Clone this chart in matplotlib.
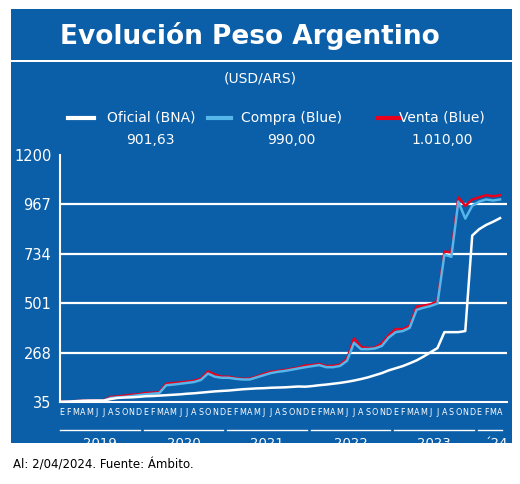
import matplotlib
matplotlib.use("Agg")
import matplotlib.pyplot as plt
import matplotlib.transforms as mtrans
from matplotlib.patches import Rectangle
from matplotlib.lines import Line2D

months = ["E","F","M","A","M","J","J","A","S","O","N","D"]
years = ["2019","2020","2021","2022","2023","´24"]
yticks = [35, 268, 501, 734, 967, 1200]

oficial = [37,38,40,42,43,43,43,50,55,57,58,60,
           63,64,66,68,70,72,75,77,80,83,86,88,
           90,93,96,98,100,101,103,104,105,107,109,108,
           111,115,118,122,126,131,137,144,152,162,172,185,
           195,205,218,232,250,270,290,365,365,365,370,820,
           850,870,885,902]
compra = [37,37,38,40,40,41,41,55,58,60,64,68,
          72,75,78,115,118,122,126,130,140,170,155,150,
          150,145,142,142,152,162,172,178,182,188,194,200,
          205,210,200,200,206,230,315,285,285,288,300,340,
          365,370,385,470,480,488,500,730,720,980,900,960,
          980,990,985,990]
venta = [38,38,40,42,42,43,43,60,62,66,70,72,
         78,80,82,122,125,128,132,136,146,180,165,155,
         155,148,145,146,156,168,178,182,186,192,198,208,
         210,215,205,206,212,240,335,295,290,292,312,350,
         380,378,395,485,490,496,510,745,740,1000,960,990,
         1000,1010,1005,1010]

BG = "#0b5ea8"
fig = plt.figure(figsize=(5.2, 4.84), dpi=100)
fig.patch.set_facecolor("white")
fig.add_artist(Rectangle((0.021, 0.085), 0.964, 0.897, transform=fig.transFigure,
                         facecolor=BG, edgecolor="none", zorder=-2))
fig.add_artist(Rectangle((0.021, 0.872), 0.964, 0.004, transform=fig.transFigure,
                         facecolor="white", edgecolor="none"))
fig.text(0.48, 0.925, "Evolución Peso Argentino", color="white", fontsize=19,
         fontweight="bold", ha="center", va="center")
fig.text(0.5, 0.838, "(USD/ARS)", color="white", fontsize=10, ha="center", va="center")

leg = [("Oficial (BNA)", "901,63", "white", 0.29, 0.13, 0.18),
       ("Compra (Blue)", "990,00", "#55b6ea", 0.56, 0.40, 0.445),
       ("Venta (Blue)", "1.010,00", "#e8001c", 0.85, 0.727, 0.77)]
for name, val, col, xc, l0, l1 in leg:
    fig.add_artist(Line2D([l0, l1], [0.757, 0.757], transform=fig.transFigure,
                          color=col, lw=3))
    fig.text(xc, 0.757, name, color="white", fontsize=10, ha="center", va="center")
    fig.text(xc, 0.711, val, color="white", fontsize=10, ha="center", va="center")

ax = fig.add_axes([0.115, 0.169, 0.86, 0.511])
ax.set_facecolor(BG)
x = list(range(len(oficial)))
ax.plot(x, oficial, color="white", lw=1.8, zorder=3)
ax.plot(x, venta, color="#e8001c", lw=1.8, zorder=2)
ax.plot(x, compra, color="#55b6ea", lw=1.8, zorder=2.5)
ax.set_xlim(-0.3, 64)
ax.set_ylim(35, 1200)
ax.set_yticks(yticks)
ax.set_yticklabels([str(v) for v in yticks], color="white", fontsize=10.5)
for v in yticks[1:-1]:
    ax.axhline(v, color="white", lw=1.6, zorder=1)
for s in ["top", "right"]:
    ax.spines[s].set_visible(False)
for s in ["left", "bottom"]:
    ax.spines[s].set_color("white")
    ax.spines[s].set_linewidth(1.5)
ax.tick_params(axis="y", length=0, pad=6)
ax.set_xticks(x)
ax.set_xticklabels([months[i % 12] for i in x], fontsize=5.8, color="white")
ax.tick_params(axis="x", length=0, pad=4)

tr = mtrans.blended_transform_factory(ax.transData, ax.transAxes)
for i, y in enumerate(years):
    a = i * 12 - 0.2
    b = min(i * 12 + 11.2, 63.3)
    ax.plot([a, b], [-0.113, -0.113], transform=tr, color="white", lw=1, clip_on=False)
    ax.text((a + b) / 2 if i < 5 else 62.5, -0.168, y, transform=tr, color="white",
            fontsize=9.5, ha="center", va="center")

fig.text(0.025, 0.04, "Al: 2/04/2024. Fuente: Ámbito.", fontsize=8.5, color="black",
         ha="left", va="center")
fig.savefig("out.png", dpi=100, facecolor=fig.get_facecolor())
